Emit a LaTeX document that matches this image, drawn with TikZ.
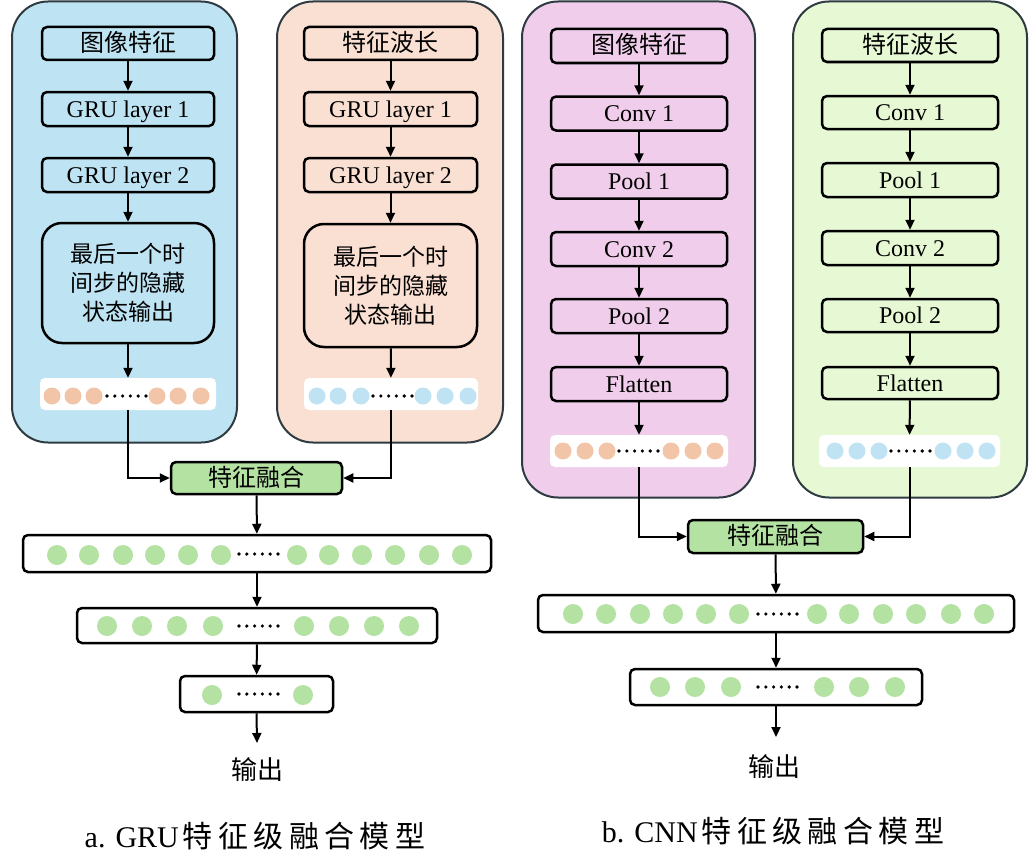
\documentclass[tikz,border=0pt]{standalone}
\usepackage{fontspec}
\setmainfont{Liberation Serif}
\newfontfamily\cjk{Noto Sans CJK SC}
\newfontfamily\cjkwide[LetterSpace=18]{Noto Sans CJK SC}
\newcommand{\zh}[1]{{\cjk #1}}
\usetikzlibrary{arrows.meta}
\definecolor{pA}{RGB}{190,228,243}
\definecolor{pB}{RGB}{250,223,211}
\definecolor{pC}{RGB}{240,206,235}
\definecolor{pD}{RGB}{231,249,212}
\definecolor{pborder}{RGB}{46,59,64}
\definecolor{cO}{RGB}{242,197,169}
\definecolor{cB}{RGB}{191,227,243}
\definecolor{cG}{RGB}{179,226,162}
\newcommand{\sixdots}[2]{\foreach \i in {0,...,5}{\fill ({#1+\i*7.8},#2) circle (1.8pt);}}
\begin{document}
\begin{tikzpicture}[x=1pt,y=-1pt,
  panel/.style={draw=pborder, line width=2pt, rounded corners=36pt, inner sep=0pt},
  box/.style={draw=black, line width=2.5pt, rounded corners=5pt, minimum width=172pt, minimum height=33pt, inner sep=0pt, text height=16pt, text depth=0pt, font=\fontsize{24}{28}\selectfont},
  bigbox/.style={box, rounded corners=20pt, align=center, text height=, text depth=, font=\fontsize{23}{29}\selectfont},
  strip/.style={fill=white, rounded corners=5pt, minimum height=32pt, inner sep=0pt},
  layer/.style={box, fill=white},
  fuse/.style={box, fill=cG, minimum width=172pt, minimum height=32pt},
  arr/.style={line width=2pt, -{Triangle[length=10pt,width=9pt]}},
  lbl/.style={font=\fontsize{26}{30}\selectfont, inner sep=0pt},
  captxt/.style={font=\fontsize{30}{34}\selectfont, inner sep=0pt}]
\useasboundingbox (0,0) rectangle (1035,859);

% ---------- panels ----------
\node[panel, fill=pA, minimum width=225pt, minimum height=441pt] (PA) at (124.5,222) {};
\node[panel, fill=pB, minimum width=226pt, minimum height=441pt] (PB) at (390,222) {};
\node[panel, fill=pC, minimum width=233pt, minimum height=496pt] (PC) at (638.5,249.5) {};
\node[panel, fill=pD, minimum width=234pt, minimum height=496pt] (PD) at (910,249.5) {};

% ---------- GRU column A ----------
\node[box] (a1) at (128,43.5) {\zh{图像特征}};
\node[box, minimum height=34pt] (a2) at (128,109) {GRU layer 1};
\node[box, minimum height=34pt] (a3) at (128,175) {GRU layer 2};
\node[bigbox, minimum width=172pt, minimum height=120pt] (a4) at (128,283) {\zh{最后一个时}\\\zh{间步的隐藏}\\\zh{状态输出}};
\node[strip, minimum width=176pt] (a5) at (128,394) {};
\foreach \x in {52,73,94,157,178,201} \fill[cO] (\x,396) circle (8.5pt);
\sixdots{107}{396}
\draw[arr] (a1) -- (a2);
\draw[arr] (a2) -- (a3);
\draw[arr] (a3) -- (a4);
\draw[arr] (a4) -- (a5);

% ---------- GRU column B ----------
\node[box, minimum width=173pt] (b1) at (390.5,43.5) {\zh{特征波长}};
\node[box, minimum width=173pt, minimum height=34pt] (b2) at (390.5,109) {GRU layer 1};
\node[box, minimum width=173pt, minimum height=34pt] (b3) at (390.5,175) {GRU layer 2};
\node[bigbox, minimum width=173pt, minimum height=123pt] (b4) at (390.5,285.5) {\zh{最后一个时}\\\zh{间步的隐藏}\\\zh{状态输出}};
\node[strip, minimum width=174pt] (b5) at (391,394) {};
\foreach \x in {317,338,361,423,445,468} \fill[cB] (\x,396) circle (8.5pt);
\sixdots{373}{396}
\draw[arr] (b1) -- (b2);
\draw[arr] (b2) -- (b3);
\draw[arr] (b3) -- (b4);
\draw[arr] (b4) -- (b5);

% ---------- GRU fusion ----------
\node[fuse, minimum width=171pt] (fa) at (256.5,478) {\zh{特征融合}};
\draw[arr] (a5.south) |- (fa.west);
\draw[arr] (b5.south) |- (fa.east);
\node[layer, minimum width=468pt, minimum height=37pt] (la1) at (257,553.5) {};
\foreach \x in {57,89,123,155,188,221,297,329,362,395,429,462} \fill[cG] (\x,555) circle (10pt);
\sixdots{239}{554}
\node[layer, minimum width=360pt, minimum height=35pt] (la2) at (257,625.5) {};
\foreach \x in {107,142,177,213,304,339,374,409} \fill[cG] (\x,626) circle (10pt);
\sixdots{239}{626}
\node[layer, minimum width=153pt, minimum height=36pt] (la3) at (256.5,694) {};
\foreach \x in {212,303} \fill[cG] (\x,695) circle (10pt);
\sixdots{239}{694}
\coordinate (oa) at (257,743);
\draw[arr] (fa) -- (la1);
\draw[arr] (la1) -- (la2);
\draw[arr] (la2) -- (la3);
\draw[arr] (la3.south) -- (oa);
\node[lbl] (ta) at (257,770) {\zh{输出}};
\node[captxt] (capa) at (255,836) {a. GRU\hspace{4pt}{\cjkwide 特征级融合模型}};

% ---------- CNN column C ----------
\node[box, minimum width=176pt, minimum height=34pt] (c1) at (639,46) {\zh{图像特征}};
\node[box, minimum width=176pt, minimum height=34pt] (c2) at (639,113.5) {Conv 1};
\node[box, minimum width=176pt, minimum height=34pt] (c3) at (639,181.5) {Pool 1};
\node[box, minimum width=176pt, minimum height=34pt] (c4) at (639,249) {Conv 2};
\node[box, minimum width=176pt, minimum height=34pt] (c5) at (639,316) {Pool 2};
\node[box, minimum width=176pt, minimum height=34pt] (c6) at (639,384) {Flatten};
\node[strip, minimum width=178pt] (c7) at (639,451) {};
\foreach \x in {563,585,607,671,693,715} \fill[cO] (\x,451) circle (8.5pt);
\sixdots{619}{451}
\draw[arr] (c1) -- (c2);
\draw[arr] (c2) -- (c3);
\draw[arr] (c3) -- (c4);
\draw[arr] (c4) -- (c5);
\draw[arr] (c5) -- (c6);
\draw[arr] (c6) -- (c7);

% ---------- CNN column D ----------
\node[box, minimum width=176pt] (d1) at (910,45.5) {\zh{特征波长}};
\node[box, minimum width=176pt] (d2) at (910,112.5) {Conv 1};
\node[box, minimum width=176pt, minimum height=34pt] (d3) at (910,180) {Pool 1};
\node[box, minimum width=176pt, minimum height=34pt] (d4) at (910,248) {Conv 2};
\node[box, minimum width=176pt] (d5) at (910,315.5) {Pool 2};
\node[box, minimum width=176pt, minimum height=32pt] (d6) at (910,383) {Flatten};
\node[strip, minimum width=181pt] (d7) at (909.5,451) {};
\foreach \x in {835,857,879,943,965,987} \fill[cB] (\x,451) circle (8.5pt);
\sixdots{891}{451}
\draw[arr] (d1) -- (d2);
\draw[arr] (d2) -- (d3);
\draw[arr] (d3) -- (d4);
\draw[arr] (d4) -- (d5);
\draw[arr] (d5) -- (d6);
\draw[arr] (d6) -- (d7);

% ---------- CNN fusion ----------
\node[fuse, minimum width=175pt, minimum height=33pt] (fb) at (775.5,536.5) {\zh{特征融合}};
\draw[arr] (c7.south) |- (fb.west);
\draw[arr] (d7.south) |- (fb.east);
\node[layer, minimum width=476pt, minimum height=37pt] (lb1) at (776,613.5) {};
\foreach \x in {573,606,640,673,706,739,817,849,883,916,951,984} \fill[cG] (\x,614) circle (10pt);
\sixdots{758}{614}
\node[layer, minimum width=292pt, minimum height=36pt] (lb2) at (776,687) {};
\foreach \x in {660,695,731,824,859,895} \fill[cG] (\x,687) circle (10pt);
\sixdots{758}{687}
\coordinate (ob) at (776,737);
\draw[arr] (fb) -- (lb1);
\draw[arr] (lb1) -- (lb2);
\draw[arr] (lb2.south) -- (ob);
\node[lbl] (tb) at (774,767) {\zh{输出}};
\node[captxt] (capb) at (773,831) {b. CNN\hspace{4pt}{\cjkwide 特征级融合模型}};
\end{tikzpicture}
\end{document}
